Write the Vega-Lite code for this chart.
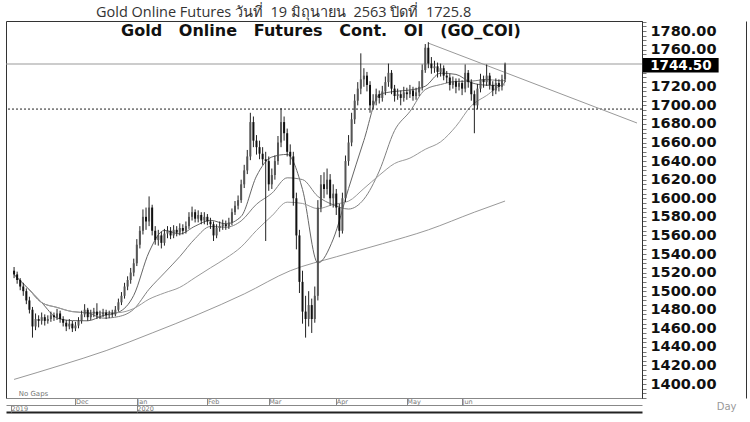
{
  "$schema": "https://vega.github.io/schema/vega-lite/v6.json",
  "width": 636,
  "height": 377,
  "padding": {"left": 5, "top": 5, "right": 3, "bottom": 4},
  "background": "white",
  "title": {
    "text": "Gold Online Futures วันที่\u00a0 19 มิถุนายน\u00a0 2563 ปิดที่\u00a0 1725.8",
    "anchor": "start", "frame": "group", "dx": 90, "offset": -7,
    "fontSize": 14.5, "font": "Open Sans", "fontWeight": "normal", "color": "#333"
  },
  "config": {"view": {"stroke": "#333", "strokeWidth": 1}, "axis": {"grid": false}},
  "datasets": {
    "ohlc": [
      {"i":0,"o":1522,"h":1526,"l":1514,"c":1518},{"i":1,"o":1518,"h":1521,"l":1508,"c":1512},{"i":2,"o":1512,"h":1514,"l":1501,"c":1505},{"i":3,"o":1505,"h":1509,"l":1495,"c":1500},{"i":4,"o":1500,"h":1503,"l":1486,"c":1490},
      {"i":5,"o":1490,"h":1494,"l":1476,"c":1480},{"i":6,"o":1480,"h":1483,"l":1450,"c":1462},{"i":7,"o":1462,"h":1476,"l":1458,"c":1470},{"i":8,"o":1470,"h":1474,"l":1461,"c":1468},{"i":9,"o":1468,"h":1477,"l":1464,"c":1472},
      {"i":10,"o":1472,"h":1475,"l":1463,"c":1468},{"i":11,"o":1468,"h":1474,"l":1465,"c":1470},{"i":12,"o":1470,"h":1478,"l":1467,"c":1474},{"i":13,"o":1474,"h":1477,"l":1468,"c":1472},{"i":14,"o":1472,"h":1481,"l":1469,"c":1476},
      {"i":15,"o":1476,"h":1479,"l":1466,"c":1470},{"i":16,"o":1470,"h":1473,"l":1462,"c":1466},{"i":17,"o":1466,"h":1469,"l":1457,"c":1462},{"i":18,"o":1462,"h":1470,"l":1459,"c":1465},{"i":19,"o":1465,"h":1468,"l":1456,"c":1460},
      {"i":20,"o":1460,"h":1467,"l":1457,"c":1463},{"i":21,"o":1463,"h":1472,"l":1460,"c":1468},{"i":22,"o":1468,"h":1479,"l":1465,"c":1475},{"i":23,"o":1475,"h":1486,"l":1472,"c":1480},{"i":24,"o":1480,"h":1482,"l":1468,"c":1472},
      {"i":25,"o":1472,"h":1480,"l":1469,"c":1476},{"i":26,"o":1476,"h":1482,"l":1472,"c":1478},{"i":27,"o":1478,"h":1487,"l":1470,"c":1474},{"i":28,"o":1474,"h":1479,"l":1470,"c":1475},{"i":29,"o":1475,"h":1481,"l":1472,"c":1477},
      {"i":30,"o":1477,"h":1480,"l":1470,"c":1474},{"i":31,"o":1474,"h":1479,"l":1471,"c":1476},{"i":32,"o":1476,"h":1480,"l":1472,"c":1475},{"i":33,"o":1475,"h":1484,"l":1473,"c":1480},{"i":34,"o":1480,"h":1492,"l":1478,"c":1488},
      {"i":35,"o":1488,"h":1499,"l":1485,"c":1495},{"i":36,"o":1495,"h":1509,"l":1492,"c":1505},{"i":37,"o":1505,"h":1516,"l":1501,"c":1512},{"i":38,"o":1512,"h":1525,"l":1508,"c":1520},{"i":39,"o":1520,"h":1535,"l":1516,"c":1530},
      {"i":40,"o":1530,"h":1556,"l":1527,"c":1550},{"i":41,"o":1550,"h":1570,"l":1546,"c":1565},{"i":42,"o":1565,"h":1588,"l":1561,"c":1580},{"i":43,"o":1580,"h":1590,"l":1566,"c":1575},{"i":44,"o":1575,"h":1602,"l":1570,"c":1590},
      {"i":45,"o":1590,"h":1593,"l":1560,"c":1565},{"i":46,"o":1565,"h":1570,"l":1550,"c":1555},{"i":47,"o":1555,"h":1566,"l":1549,"c":1560},{"i":48,"o":1560,"h":1564,"l":1546,"c":1552},{"i":49,"o":1552,"h":1567,"l":1549,"c":1562},
      {"i":50,"o":1562,"h":1570,"l":1557,"c":1565},{"i":51,"o":1565,"h":1569,"l":1556,"c":1560},{"i":52,"o":1560,"h":1571,"l":1557,"c":1566},{"i":53,"o":1566,"h":1570,"l":1559,"c":1563},{"i":54,"o":1563,"h":1573,"l":1560,"c":1568},
      {"i":55,"o":1568,"h":1572,"l":1561,"c":1565},{"i":56,"o":1565,"h":1575,"l":1562,"c":1570},{"i":57,"o":1570,"h":1585,"l":1567,"c":1580},{"i":58,"o":1580,"h":1591,"l":1576,"c":1585},{"i":59,"o":1585,"h":1588,"l":1574,"c":1578},
      {"i":60,"o":1578,"h":1587,"l":1574,"c":1582},{"i":61,"o":1582,"h":1585,"l":1572,"c":1576},{"i":62,"o":1576,"h":1585,"l":1572,"c":1580},{"i":63,"o":1580,"h":1583,"l":1571,"c":1575},{"i":64,"o":1575,"h":1579,"l":1567,"c":1572},
      {"i":65,"o":1572,"h":1575,"l":1554,"c":1560},{"i":66,"o":1560,"h":1572,"l":1557,"c":1568},{"i":67,"o":1568,"h":1575,"l":1564,"c":1570},{"i":68,"o":1570,"h":1577,"l":1566,"c":1572},{"i":69,"o":1572,"h":1576,"l":1566,"c":1570},
      {"i":70,"o":1570,"h":1579,"l":1567,"c":1574},{"i":71,"o":1574,"h":1589,"l":1571,"c":1585},{"i":72,"o":1585,"h":1597,"l":1582,"c":1592},{"i":73,"o":1592,"h":1603,"l":1588,"c":1598},{"i":74,"o":1598,"h":1620,"l":1595,"c":1615},
      {"i":75,"o":1615,"h":1636,"l":1611,"c":1630},{"i":76,"o":1630,"h":1652,"l":1626,"c":1645},{"i":77,"o":1645,"h":1692,"l":1641,"c":1682},{"i":78,"o":1682,"h":1688,"l":1655,"c":1662},{"i":79,"o":1662,"h":1668,"l":1647,"c":1655},
      {"i":80,"o":1655,"h":1662,"l":1642,"c":1648},{"i":81,"o":1648,"h":1655,"l":1636,"c":1642},{"i":82,"o":1642,"h":1650,"l":1554,"c":1640},{"i":83,"o":1640,"h":1645,"l":1608,"c":1615},{"i":84,"o":1615,"h":1632,"l":1610,"c":1625},
      {"i":85,"o":1625,"h":1646,"l":1620,"c":1640},{"i":86,"o":1640,"h":1667,"l":1636,"c":1660},{"i":87,"o":1660,"h":1697,"l":1655,"c":1682},{"i":88,"o":1682,"h":1688,"l":1662,"c":1670},{"i":89,"o":1670,"h":1675,"l":1645,"c":1650},
      {"i":90,"o":1650,"h":1658,"l":1636,"c":1645},{"i":91,"o":1645,"h":1650,"l":1592,"c":1600},{"i":92,"o":1600,"h":1606,"l":1545,"c":1560},{"i":93,"o":1560,"h":1566,"l":1498,"c":1510},{"i":94,"o":1510,"h":1522,"l":1465,"c":1478},
      {"i":95,"o":1478,"h":1495,"l":1450,"c":1470},{"i":96,"o":1470,"h":1500,"l":1462,"c":1485},{"i":97,"o":1485,"h":1492,"l":1455,"c":1470},{"i":98,"o":1470,"h":1505,"l":1466,"c":1495},{"i":99,"o":1495,"h":1598,"l":1490,"c":1590},
      {"i":100,"o":1590,"h":1625,"l":1585,"c":1615},{"i":101,"o":1615,"h":1628,"l":1600,"c":1610},{"i":102,"o":1610,"h":1632,"l":1604,"c":1620},{"i":103,"o":1620,"h":1626,"l":1592,"c":1600},{"i":104,"o":1600,"h":1615,"l":1590,"c":1605},
      {"i":105,"o":1605,"h":1610,"l":1582,"c":1590},{"i":106,"o":1590,"h":1594,"l":1558,"c":1565},{"i":107,"o":1565,"h":1606,"l":1562,"c":1600},{"i":108,"o":1600,"h":1646,"l":1596,"c":1640},{"i":109,"o":1640,"h":1668,"l":1635,"c":1660},
      {"i":110,"o":1660,"h":1692,"l":1656,"c":1685},{"i":111,"o":1685,"h":1712,"l":1680,"c":1705},{"i":112,"o":1705,"h":1725,"l":1700,"c":1718},{"i":113,"o":1718,"h":1756,"l":1712,"c":1728},{"i":114,"o":1728,"h":1740,"l":1720,"c":1732},
      {"i":115,"o":1732,"h":1736,"l":1715,"c":1722},{"i":116,"o":1722,"h":1726,"l":1692,"c":1700},{"i":117,"o":1700,"h":1712,"l":1696,"c":1705},{"i":118,"o":1705,"h":1718,"l":1700,"c":1712},{"i":119,"o":1712,"h":1716,"l":1702,"c":1708},
      {"i":120,"o":1708,"h":1721,"l":1704,"c":1715},{"i":121,"o":1715,"h":1731,"l":1711,"c":1725},{"i":122,"o":1725,"h":1745,"l":1720,"c":1735},{"i":123,"o":1735,"h":1738,"l":1712,"c":1718},{"i":124,"o":1718,"h":1722,"l":1704,"c":1710},
      {"i":125,"o":1710,"h":1718,"l":1706,"c":1712},{"i":126,"o":1712,"h":1716,"l":1700,"c":1708},{"i":127,"o":1708,"h":1720,"l":1704,"c":1714},{"i":128,"o":1714,"h":1719,"l":1706,"c":1712},{"i":129,"o":1712,"h":1722,"l":1708,"c":1716},
      {"i":130,"o":1716,"h":1720,"l":1705,"c":1710},{"i":131,"o":1710,"h":1719,"l":1706,"c":1714},{"i":132,"o":1714,"h":1726,"l":1710,"c":1720},{"i":133,"o":1720,"h":1744,"l":1716,"c":1738},{"i":134,"o":1738,"h":1766,"l":1735,"c":1762},
      {"i":135,"o":1762,"h":1768,"l":1740,"c":1745},{"i":136,"o":1745,"h":1752,"l":1734,"c":1740},{"i":137,"o":1740,"h":1748,"l":1735,"c":1742},{"i":138,"o":1742,"h":1746,"l":1730,"c":1736},{"i":139,"o":1736,"h":1745,"l":1731,"c":1740},
      {"i":140,"o":1740,"h":1743,"l":1727,"c":1732},{"i":141,"o":1732,"h":1737,"l":1724,"c":1730},{"i":142,"o":1730,"h":1734,"l":1716,"c":1722},{"i":143,"o":1722,"h":1731,"l":1718,"c":1726},{"i":144,"o":1726,"h":1729,"l":1713,"c":1720},
      {"i":145,"o":1720,"h":1729,"l":1716,"c":1724},{"i":146,"o":1724,"h":1727,"l":1711,"c":1718},{"i":147,"o":1718,"h":1744,"l":1714,"c":1735},{"i":148,"o":1735,"h":1738,"l":1719,"c":1725},{"i":149,"o":1725,"h":1728,"l":1705,"c":1712},
      {"i":150,"o":1712,"h":1716,"l":1670,"c":1700},{"i":151,"o":1700,"h":1723,"l":1696,"c":1718},{"i":152,"o":1718,"h":1734,"l":1714,"c":1728},{"i":153,"o":1728,"h":1732,"l":1719,"c":1725},{"i":154,"o":1725,"h":1744,"l":1721,"c":1732},
      {"i":155,"o":1732,"h":1735,"l":1717,"c":1722},{"i":156,"o":1722,"h":1726,"l":1710,"c":1716},{"i":157,"o":1716,"h":1729,"l":1712,"c":1724},{"i":158,"o":1724,"h":1728,"l":1715,"c":1720},{"i":159,"o":1720,"h":1733,"l":1716,"c":1728},
      {"i":160,"o":1728,"h":1746,"l":1725,"c":1744.5}
    ],
    "ma": [
      {"ma":"MA10","i":0,"v":1518},{"ma":"MA10","i":4,"v":1505},{"ma":"MA10","i":9,"v":1487.7},{"ma":"MA10","i":14,"v":1471.2},{"ma":"MA10","i":19,"v":1468.3},{"ma":"MA10","i":24,"v":1468.1},{"ma":"MA10","i":29,"v":1473.8},{"ma":"MA10","i":34,"v":1477.3},{"ma":"MA10","i":39,"v":1495.5},{"ma":"MA10","i":44,"v":1542.2},{"ma":"MA10","i":49,"v":1565.4},{"ma":"MA10","i":54,"v":1561.6},{"ma":"MA10","i":59,"v":1570},{"ma":"MA10","i":64,"v":1576.3},{"ma":"MA10","i":69,"v":1572.5},{"ma":"MA10","i":74,"v":1580.4},{"ma":"MA10","i":79,"v":1623.8},{"ma":"MA10","i":84,"v":1644.4},{"ma":"MA10","i":89,"v":1647.2},{"ma":"MA10","i":94,"v":1609.5},{"ma":"MA10","i":99,"v":1530.3},{"ma":"MA10","i":104,"v":1556},{"ma":"MA10","i":109,"v":1610.5},{"ma":"MA10","i":114,"v":1662.3},{"ma":"MA10","i":119,"v":1711.5},{"ma":"MA10","i":124,"v":1715},{"ma":"MA10","i":129,"v":1716.5},{"ma":"MA10","i":134,"v":1720.6},{"ma":"MA10","i":139,"v":1734.7},{"ma":"MA10","i":144,"v":1733.3},{"ma":"MA10","i":149,"v":1724.4},{"ma":"MA10","i":154,"v":1721.7},{"ma":"MA10","i":159,"v":1721.3},{"ma":"MA10","i":160,"v":1725.8},
      {"ma":"MA25","i":0,"v":1518},{"ma":"MA25","i":4,"v":1505},{"ma":"MA25","i":9,"v":1487.7},{"ma":"MA25","i":14,"v":1482.5},{"ma":"MA25","i":19,"v":1478},{"ma":"MA25","i":24,"v":1476.7},{"ma":"MA25","i":29,"v":1470.9},{"ma":"MA25","i":34,"v":1472.6},{"ma":"MA25","i":39,"v":1480.6},{"ma":"MA25","i":44,"v":1502.1},{"ma":"MA25","i":49,"v":1519.6},{"ma":"MA25","i":54,"v":1537.2},{"ma":"MA25","i":59,"v":1556.6},{"ma":"MA25","i":64,"v":1569.6},{"ma":"MA25","i":69,"v":1568.8},{"ma":"MA25","i":74,"v":1575.6},{"ma":"MA25","i":79,"v":1593.6},{"ma":"MA25","i":84,"v":1605.3},{"ma":"MA25","i":89,"v":1622},{"ma":"MA25","i":94,"v":1620.1},{"ma":"MA25","i":99,"v":1602},{"ma":"MA25","i":104,"v":1593},{"ma":"MA25","i":109,"v":1588.4},{"ma":"MA25","i":114,"v":1599},{"ma":"MA25","i":119,"v":1629.2},{"ma":"MA25","i":124,"v":1672.9},{"ma":"MA25","i":129,"v":1693.4},{"ma":"MA25","i":134,"v":1717},{"ma":"MA25","i":139,"v":1722.4},{"ma":"MA25","i":144,"v":1725.7},{"ma":"MA25","i":149,"v":1726.1},{"ma":"MA25","i":154,"v":1727.8},{"ma":"MA25","i":159,"v":1726.4},{"ma":"MA25","i":160,"v":1727},
      {"ma":"MA50","i":0,"v":1518},{"ma":"MA50","i":4,"v":1505},{"ma":"MA50","i":9,"v":1487.7},{"ma":"MA50","i":14,"v":1482.5},{"ma":"MA50","i":19,"v":1478},{"ma":"MA50","i":24,"v":1476.7},{"ma":"MA50","i":29,"v":1476.6},{"ma":"MA50","i":34,"v":1476.9},{"ma":"MA50","i":39,"v":1481.3},{"ma":"MA50","i":44,"v":1491.4},{"ma":"MA50","i":49,"v":1498.1},{"ma":"MA50","i":54,"v":1504.1},{"ma":"MA50","i":59,"v":1514.6},{"ma":"MA50","i":64,"v":1525.1},{"ma":"MA50","i":69,"v":1535.4},{"ma":"MA50","i":74,"v":1547.6},{"ma":"MA50","i":79,"v":1565.4},{"ma":"MA50","i":84,"v":1581},{"ma":"MA50","i":89,"v":1595.8},{"ma":"MA50","i":94,"v":1594.4},{"ma":"MA50","i":99,"v":1588.8},{"ma":"MA50","i":104,"v":1593.3},{"ma":"MA50","i":109,"v":1596.9},{"ma":"MA50","i":114,"v":1610.5},{"ma":"MA50","i":119,"v":1624.7},{"ma":"MA50","i":124,"v":1637.4},{"ma":"MA50","i":129,"v":1643.2},{"ma":"MA50","i":134,"v":1652.7},{"ma":"MA50","i":139,"v":1660.7},{"ma":"MA50","i":144,"v":1677.4},{"ma":"MA50","i":149,"v":1699.5},{"ma":"MA50","i":154,"v":1710.6},{"ma":"MA50","i":159,"v":1721.7},{"ma":"MA50","i":160,"v":1722}
    ],
    "ma200": [
      {"i":0,"v":1405},{"i":15,"v":1420},{"i":30,"v":1436},{"i":45,"v":1455},{"i":60,"v":1475},{"i":75,"v":1497},{"i":90,"v":1522},{"i":105,"v":1537},{"i":120,"v":1551},{"i":135,"v":1566},{"i":150,"v":1585},{"i":160,"v":1597}
    ],
    "trend": [
      {"i":135,"v":1767},{"i":203,"v":1681}
    ],
    "one": [{}]
  },
  "layer": [
    {
      "data": {"name": "ma200"},
      "mark": {"type": "line", "color": "#999", "strokeWidth": 1, "interpolate": "monotone"},
      "encoding": {
        "x": {"field": "i", "type": "quantitative",
          "axis": {"orient": "bottom", "offset": 14, "labels": false, "ticks": false, "title": null, "domainColor": "#222", "domainWidth": 2}},
        "y": {"field": "v", "type": "quantitative", "axis": null}
      }
    },
    {
      "data": {"name": "ma"},
      "mark": {"type": "line", "strokeWidth": 1, "interpolate": "monotone"},
      "encoding": {
        "x": {"field": "i", "type": "quantitative",
          "axis": {"orient": "bottom", "offset": 7, "values": [-1, 40], "labelExpr": "datum.value < 0 ? '2019' : '2020'", "title": null, "tickSize": 7, "tickColor": "#888", "domainColor": "#888", "labelFontSize": 6.5, "labelColor": "#777", "labelFont": "DejaVu Sans", "labelAlign": "left", "labelBaseline": "middle", "labelPadding": -3.5, "labelDx": 2, "labelFlush": false, "labelOverlap": false}},
        "y": {"field": "v", "type": "quantitative",
          "axis": {"orient": "right", "offset": 104, "labels": false, "ticks": false, "title": null, "domainColor": "#333"}},
        "color": {"field": "ma", "type": "nominal", "scale": {"domain": ["MA10", "MA25", "MA50"], "range": ["#666", "#7f7f7f", "#9a9a9a"]}, "legend": null}
      }
    },
    {
      "data": {"name": "one"},
      "mark": {"type": "rule", "color": "#999", "strokeWidth": 1},
      "encoding": {"y": {"datum": 1744.5, "axis": null}}
    },
    {
      "data": {"name": "one"},
      "mark": {"type": "rule", "color": "#222", "strokeWidth": 1, "strokeDash": [2, 2]},
      "encoding": {"y": {"datum": 1696, "axis": null}}
    },
    {
      "data": {"name": "trend"},
      "mark": {"type": "line", "color": "#999", "strokeWidth": 1},
      "encoding": {
        "x": {"field": "i", "type": "quantitative", "axis": null},
        "y": {"field": "v", "type": "quantitative", "axis": null}
      }
    },
    {
      "data": {"name": "ohlc"},
      "mark": {"type": "rule", "color": "#222", "strokeWidth": 1},
      "encoding": {
        "x": {"field": "i", "type": "quantitative",
          "scale": {"domain": [-1, 203], "nice": false, "zero": false},
          "axis": {"orient": "bottom", "values": [20, 40, 63, 83, 105, 128, 146], "labelExpr": "datum.value == 20 ? 'Dec' : datum.value == 40 ? 'Jan' : datum.value == 63 ? 'Feb' : datum.value == 83 ? 'Mar' : datum.value == 105 ? 'Apr' : datum.value == 128 ? 'May' : 'Jun'", "title": null, "tickSize": 7, "tickColor": "#888", "domainColor": "#888", "labelFontSize": 6.5, "labelColor": "#777", "labelFont": "DejaVu Sans", "labelAlign": "left", "labelBaseline": "middle", "labelPadding": -3.5, "labelDx": 2, "labelFlush": false, "labelOverlap": false}},
        "y": {"field": "l", "type": "quantitative",
          "scale": {"domain": [1385, 1790.8], "nice": false, "zero": false},
          "axis": {"orient": "right", "values": [1385,1390,1395,1400,1405,1410,1415,1420,1425,1430,1435,1440,1445,1450,1455,1460,1465,1470,1475,1480,1485,1490,1495,1500,1505,1510,1515,1520,1525,1530,1535,1540,1545,1550,1555,1560,1565,1570,1575,1580,1585,1590,1595,1600,1605,1610,1615,1620,1625,1630,1635,1640,1645,1650,1655,1660,1665,1670,1675,1680,1685,1690,1695,1700,1705,1710,1715,1720,1725,1730,1735,1740,1745,1750,1755,1760,1765,1770,1775,1780,1785,1790],
            "labelExpr": "datum.value % 20 == 0 && datum.value != 1740 ? format(datum.value, '.2f') : ''",
            "title": "Day", "titleAngle": 0, "titleAlign": "right", "titleBaseline": "middle", "titleX": 94, "titleY": 385, "titleFontSize": 10, "titleFontWeight": "normal", "titleColor": "#999", "titleFont": "DejaVu Sans",
            "tickSize": 4, "tickColor": "#777", "domainColor": "#333",
            "labelFont": "DejaVu Sans", "labelFontSize": 14.5, "labelFontWeight": "bold", "labelColor": "#111", "labelPadding": 4, "labelOverlap": false, "labelFlush": false, "labelBaseline": "middle"}},
        "y2": {"field": "h"}
      }
    },
    {
      "data": {"name": "ohlc"},
      "mark": {"type": "bar", "size": 2},
      "encoding": {
        "x": {"field": "i", "type": "quantitative", "axis": null},
        "y": {"field": "o", "type": "quantitative", "axis": null},
        "y2": {"field": "c"},
        "color": {"condition": {"test": "datum.c >= datum.o", "value": "#555"}, "value": "#111"}
      }
    },
    {
      "data": {"name": "one"},
      "mark": {"type": "rect", "color": "#000"},
      "encoding": {
        "x": {"datum": 204.9, "axis": null},
        "x2": {"datum": 229.6},
        "y": {"datum": 1751, "axis": null},
        "y2": {"datum": 1735.5}
      }
    },
    {
      "data": {"name": "one"},
      "mark": {"type": "text", "color": "white", "font": "DejaVu Sans", "fontSize": 13.5, "fontWeight": "bold", "align": "center", "baseline": "middle"},
      "encoding": {
        "x": {"datum": 217.3, "axis": null},
        "y": {"datum": 1742.5, "axis": null},
        "text": {"value": "1744.50"}
      }
    },
    {
      "data": {"name": "one"},
      "mark": {"type": "text", "color": "#111", "font": "DejaVu Sans", "fontSize": 16, "fontWeight": "bold", "align": "center", "baseline": "middle"},
      "encoding": {
        "x": {"datum": 100, "axis": null},
        "y": {"datum": 1780.5, "axis": null},
        "text": {"value": "Gold\u00a0\u00a0 Online\u00a0\u00a0 Futures\u00a0\u00a0 Cont.\u00a0\u00a0 OI\u00a0\u00a0 (GO_COI)"}
      }
    },
    {
      "data": {"name": "one"},
      "mark": {"type": "text", "color": "#777", "font": "DejaVu Sans", "fontSize": 7, "align": "left", "baseline": "middle"},
      "encoding": {
        "x": {"datum": 1.5, "axis": null},
        "y": {"datum": 1389, "axis": null},
        "text": {"value": "No Gaps"}
      }
    }
  ],
  "resolve": {"axis": {"x": "independent", "y": "independent"}}
}
